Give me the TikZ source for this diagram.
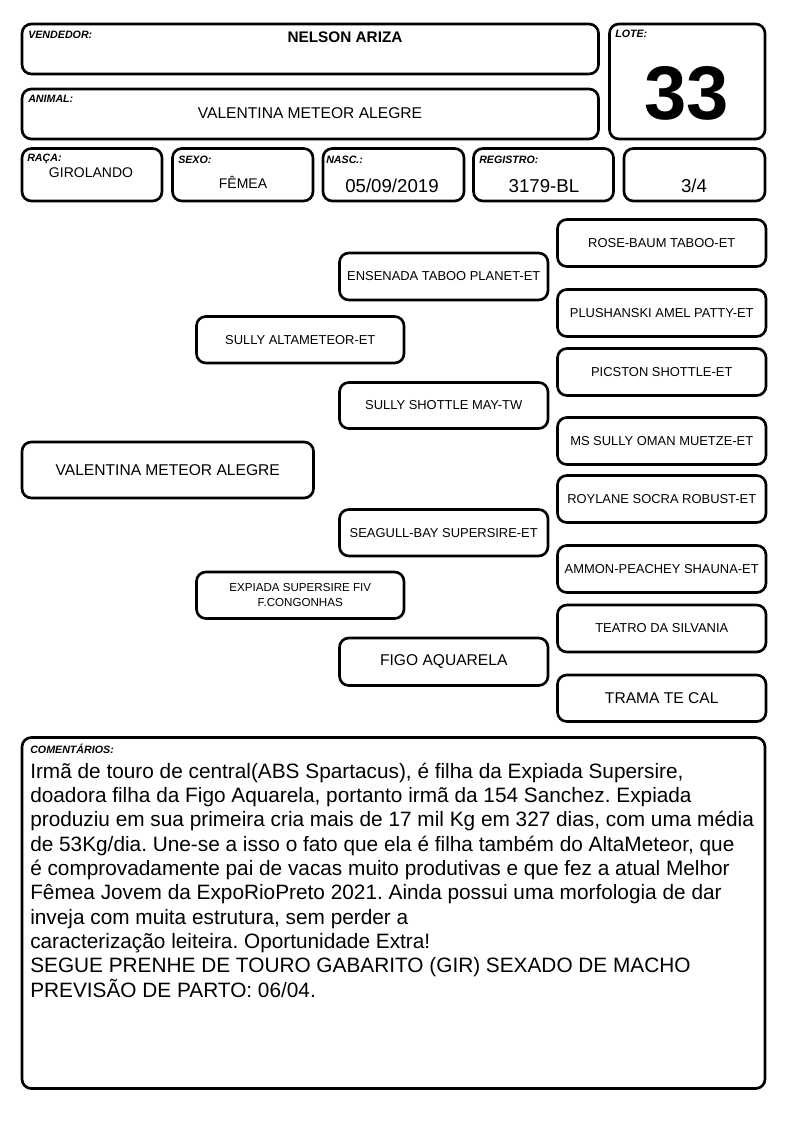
\documentclass[tikz,border=0pt]{standalone}
\usepackage{fontspec}
\setmainfont{Liberation Sans}
\frenchspacing
\tikzset{
 x=0.75pt, y=-0.75pt,
 box/.style={draw, line width=2pt, rounded corners=7pt, inner sep=0pt, align=center, font=\fontsize{9.7}{11.25}\selectfont},
 big/.style={font=\fontsize{11.7}{14}\selectfont},
 small/.style={font=\fontsize{8.7}{11.25}\selectfont},
 lbl/.style={anchor=base west, inner sep=0pt, font=\fontsize{8}{9}\selectfont\bfseries\itshape},
 val/.style={anchor=base, inner sep=0pt, font=\fontsize{10.5}{12}\selectfont},
 valbig/.style={anchor=base, inner sep=0pt, font=\fontsize{14}{16}\selectfont},
}
% #1 options, #2 name, #3 x1, #4 y1, #5 x2, #6 y2, #7 text
\newcommand{\bx}[7][]{%
  \node[box,#1,minimum width={(#5-#3)*0.75pt},minimum height={(#6-#4)*0.75pt}] (#2) at ({(#3+#5)/2},{(#4+#6)/2}) {#7};}
\begin{document}
\begin{tikzpicture}
\useasboundingbox (0,0) rectangle (794,1123);
% header boxes
\bx{vend}{22}{24}{598.5}{74}{}
\bx{anim}{22}{89}{598.5}{139}{}
\bx{lote}{609.5}{24}{765}{139}{}
\bx{raca}{22}{148.5}{162}{201}{}
\bx{sexo}{172.5}{148.5}{313}{201}{}
\bx{nasc}{323}{148.5}{464}{201}{}
\bx{regi}{473.5}{148.5}{613.5}{201}{}
\bx{grau}{624}{148.5}{765}{201}{}
% labels
\node[lbl] (vendl) at (28,39) {VENDEDOR:};
\node[lbl] (animl) at (28,103) {ANIMAL:};
\node[lbl] (lotel) at (615,38) {LOTE:};
\node[lbl] (racal) at (27,162) {RAÇA:};
\node[lbl] (sexol) at (178,164) {SEXO:};
\node[lbl] (nascl) at (326,164) {NASC.:};
\node[lbl] (regil) at (479,164) {REGISTRO:};
% values
\node[val, font=\fontsize{11.5}{13}\selectfont\bfseries] (vendv) at (345,43) {NELSON ARIZA};
\node[val, big] (animv) at (310,119) {VALENTINA METEOR ALEGRE};
\node[val, font=\fontsize{57}{60}\selectfont\bfseries] (lotev) at (687,120) {33};
\node[val] (racav) at (91,178) {GIROLANDO};
\node[val] (sexov) at (243,189) {FÊMEA};
\node[valbig] (nascv) at (392,193) {05/09/2019};
\node[valbig] (regiv) at (544,193) {3179-BL};
\node[valbig] (grauv) at (694,193) {3/4};
% pedigree
\bx[big]{p1}{22}{442}{313.5}{498}{VALENTINA METEOR ALEGRE}
\bx{s}{196.5}{316.5}{404}{363}{SULLY ALTAMETEOR-ET}
\bx[small]{d}{196.5}{572}{404}{618.5}{EXPIADA SUPERSIRE FIV\\F.CONGONHAS}
\bx{ss}{339.5}{253}{548}{300}{ENSENADA TABOO PLANET-ET}
\bx{sd}{339.5}{382.5}{548}{428.5}{SULLY SHOTTLE MAY-TW}
\bx{ds}{339.5}{509.5}{548}{556}{SEAGULL-BAY SUPERSIRE-ET}
\bx[big]{dd}{339.5}{638}{548}{685.5}{FIGO AQUARELA}
\bx{r1}{557.5}{219.5}{766}{266.5}{ROSE-BAUM TABOO-ET}
\bx{r2}{557.5}{289.5}{766}{336.5}{PLUSHANSKI AMEL PATTY-ET}
\bx{r3}{557.5}{348.5}{766}{395.5}{PICSTON SHOTTLE-ET}
\bx{r4}{557.5}{417.5}{766}{464.5}{MS SULLY OMAN MUETZE-ET}
\bx{r5}{557.5}{475.5}{766}{522.5}{ROYLANE SOCRA ROBUST-ET}
\bx{r6}{557.5}{545.5}{766}{592.5}{AMMON-PEACHEY SHAUNA-ET}
\bx{r7}{557.5}{605}{766}{652}{TEATRO DA SILVANIA}
\bx[big]{r8}{557.5}{675}{766}{721.5}{TRAMA TE CAL}
% comments
\bx{com}{22}{737.5}{765}{1088.5}{}
\node[lbl] (coml) at (30,753) {COMENTÁRIOS:};
\node[anchor=base west, inner sep=0pt, font=\fontsize{15.6}{18.25}\selectfont] (comt) at (30,778) {\parbox[t]{570pt}{\raggedright
Irmã de touro de central(ABS Spartacus), é filha da Expiada Supersire,\\
doadora filha da Figo Aquarela, portanto irmã da 154 Sanchez. Expiada\\
produziu em sua primeira cria mais de 17 mil Kg em 327 dias, com uma média\\
de 53Kg/dia. Une-se a isso o fato que ela é filha também do AltaMeteor, que\\
é comprovadamente pai de vacas muito produtivas e que fez a atual Melhor\\
Fêmea Jovem da ExpoRioPreto 2021. Ainda possui uma morfologia de dar\\
inveja com muita estrutura, sem perder a\\
caracterização leiteira. Oportunidade Extra!\\
SEGUE PRENHE DE TOURO GABARITO (GIR) SEXADO DE MACHO\\
PREVISÃO DE PARTO: 06/04.}};
\end{tikzpicture}
\end{document}
